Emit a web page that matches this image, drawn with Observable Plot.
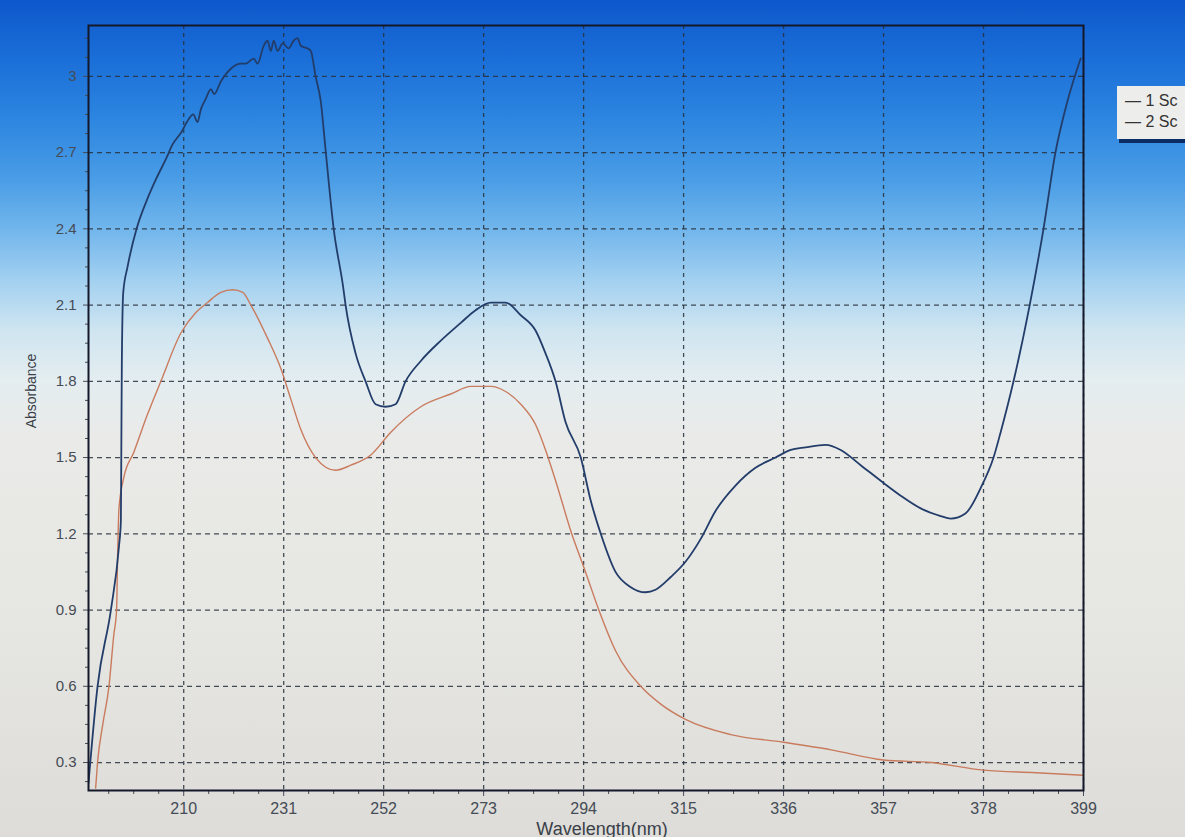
<!DOCTYPE html>
<html>
<head>
<meta charset="utf-8">
<script src="https://cdn.jsdelivr.net/npm/d3@7"></script>
<script src="https://cdn.jsdelivr.net/npm/@observablehq/plot@0.6"></script>
<style>
  html, body { margin: 0; padding: 0; width: 1185px; height: 837px; overflow: hidden; }
  body {
    position: relative;
    background: linear-gradient(to bottom,
      #0d58cc 0px, #1b6fd8 60px, #2d86e0 120px, #4a9de6 180px, #72b6ec 230px,
      #a2d0f0 280px, #cfe5f1 330px, #e4edf0 380px, #eaeae8 440px,
      #e6e6e2 620px, #dddcd8 837px);
    font-family: "Liberation Sans", Arial, sans-serif;
  }
  #chart { position: absolute; left: 0; top: 0; }
  #legend {
    position: absolute; left: 1117px; top: 86px; width: 80px; height: 53px;
    background: #ededeb; box-shadow: 2px 4px 0 #0b2c64;
    font-size: 16px; color: #333; line-height: 21px; padding: 4px 0 0 8px; box-sizing: border-box;
    white-space: nowrap;
  }
</style>
</head>
<body>
<div id="chart"></div>
<div id="legend"><div>— 1 Sc</div><div>— 2 Sc</div></div>
<script>
// Wavelength (nm) and absorbance
const scan1Wavelength = [190.0,191.9,194.7,196.4,196.8,196.9,197.0,197.3,198.2,200.1,202.2,204.3,206.4,207.6,209.5,211.0,212.0,212.9,213.6,214.6,215.7,216.4,217.8,219.9,222.0,223.0,224.7,225.5,226.8,227.6,228.3,228.9,229.7,230.8,232.0,233.1,233.9,234.6,236.0,236.7,237.7,238.8,239.8,241.5,243.5,244.0,246.1,248.2,250.3,252.4,254.5,256.6,259.8,264.0,268.2,271.3,274.5,277.6,280.8,283.9,286.0,288.1,290.2,293.4,295.5,297.6,300.7,303.9,307.0,309.1,312.3,315.4,318.6,321.7,325.9,330.1,334.3,337.5,340.6,344.8,348.0,352.2,357.0,360.6,364.8,369.0,371.1,374.2,377.4,380.1,381.6,384.3,387.7,390.6,393.1,395.6,398.4];
const scan1Absorbance = [0.22,0.60,0.90,1.15,1.25,1.55,1.87,2.15,2.25,2.40,2.51,2.60,2.68,2.73,2.78,2.83,2.85,2.82,2.87,2.91,2.95,2.93,2.98,3.03,3.05,3.05,3.07,3.05,3.12,3.14,3.10,3.14,3.10,3.13,3.11,3.14,3.15,3.12,3.11,3.10,3.00,2.90,2.71,2.40,2.17,2.10,1.91,1.80,1.71,1.70,1.71,1.80,1.88,1.96,2.03,2.08,2.11,2.11,2.06,2.00,1.91,1.80,1.64,1.50,1.33,1.20,1.05,0.99,0.97,0.98,1.03,1.09,1.18,1.29,1.39,1.46,1.50,1.53,1.54,1.55,1.53,1.47,1.40,1.35,1.30,1.27,1.26,1.28,1.38,1.50,1.60,1.80,2.10,2.40,2.70,2.90,3.07];

const scan2Wavelength = [191.5,191.9,193.0,194.3,195.3,195.9,196.1,196.4,197.4,199.5,202.4,205.2,209.4,212.5,215.0,217.8,220.3,222.4,224.1,227.6,230.4,232.5,234.6,237.7,241.9,245.1,249.3,253.5,259.8,266.1,270.3,274.5,277.6,280.8,283.9,286.0,288.1,291.5,294.4,297.2,300.7,306.0,310.2,315.4,324.9,336.0,346.0,357.0,367.0,378.0,389.0,399.0];
const scan2Absorbance = [0.20,0.30,0.45,0.60,0.80,0.90,1.10,1.30,1.42,1.52,1.67,1.80,1.99,2.07,2.11,2.15,2.16,2.15,2.10,1.97,1.85,1.73,1.61,1.50,1.45,1.47,1.51,1.60,1.70,1.75,1.78,1.78,1.76,1.71,1.63,1.53,1.41,1.20,1.05,0.90,0.74,0.60,0.53,0.47,0.41,0.38,0.35,0.31,0.30,0.27,0.26,0.25];

const xTickValues = [210, 231, 252, 273, 294, 315, 336, 357, 378, 399];
const yTickValues = [0.3, 0.6, 0.9, 1.2, 1.5, 1.8, 2.1, 2.4, 2.7, 3.0];
const yTickLabels = ["0.3", "0.6", "0.9", "1.2", "1.5", "1.8", "2.1", "2.4", "2.7", "3"];
const seriesNames = ["1 Sc", "2 Sc"];

const scan1 = scan1Wavelength.map((w, i) => ({wavelength: w, absorbance: scan1Absorbance[i], series: seriesNames[0]}));
const scan2 = scan2Wavelength.map((w, i) => ({wavelength: w, absorbance: scan2Absorbance[i], series: seriesNames[1]}));

const xMinor = d3.range(194.25, 399.1, 5.25).filter(v => !xTickValues.some(t => Math.abs(t - v) < 0.01));
const yMinor = d3.range(0.225, 3.2, 0.075).filter(v => !yTickValues.some(t => Math.abs(t - v) < 0.001));

const tickColor = "#464c56";
const gridColor = "#27303c";

const chart = Plot.plot({
  width: 1185,
  height: 837,
  marginLeft: 88,
  marginRight: 102,
  marginTop: 25,
  marginBottom: 47,
  style: {background: "transparent", fontFamily: "'Liberation Sans', Arial, sans-serif", fontSize: "15px"},
  x: {domain: [190, 399], label: null},
  y: {domain: [0.19, 3.2], label: null},
  marks: [
    Plot.gridX(xTickValues, {stroke: gridColor, strokeOpacity: 0.85, strokeWidth: 1.3, strokeDasharray: "4,4"}),
    Plot.gridY(yTickValues, {stroke: gridColor, strokeOpacity: 0.85, strokeWidth: 1.3, strokeDasharray: "5,4"}),
    Plot.axisX(xMinor, {tickSize: 4, text: null, stroke: tickColor, label: null}),
    Plot.axisX(xTickValues, {tickSize: 6, tickPadding: 6, stroke: tickColor, fill: tickColor, fontSize: 16, label: null, tickFormat: d => String(d)}),
    Plot.axisY(yMinor, {tickSize: 3, text: null, stroke: tickColor, label: null}),
    Plot.axisY(yTickValues, {tickSize: 5, tickPadding: 7, stroke: tickColor, fill: tickColor, fontSize: 15, label: null, tickFormat: (d, i) => yTickLabels[i]}),
    Plot.line(scan2, {x: "wavelength", y: "absorbance", stroke: "#c97b5e", strokeWidth: 1.4, curve: "monotone-x", clip: true}),
    Plot.line(scan1, {x: "wavelength", y: "absorbance", stroke: "#233d6a", strokeWidth: 1.8, curve: "monotone-x", clip: true}),
    Plot.frame({stroke: "#15182a", strokeWidth: 2}),
    Plot.text(["Absorbance"], {frameAnchor: "left", textAnchor: "middle", dx: -57, dy: -17, rotate: -90, fill: "#3a3f48", fontSize: 14}),
    Plot.text(["Wavelength(nm)"], {frameAnchor: "bottom", dx: 16, dy: 44, fill: "#3a3f48", fontSize: 18})
  ]
});
document.getElementById("chart").appendChild(chart);
</script>
</body>
</html>
